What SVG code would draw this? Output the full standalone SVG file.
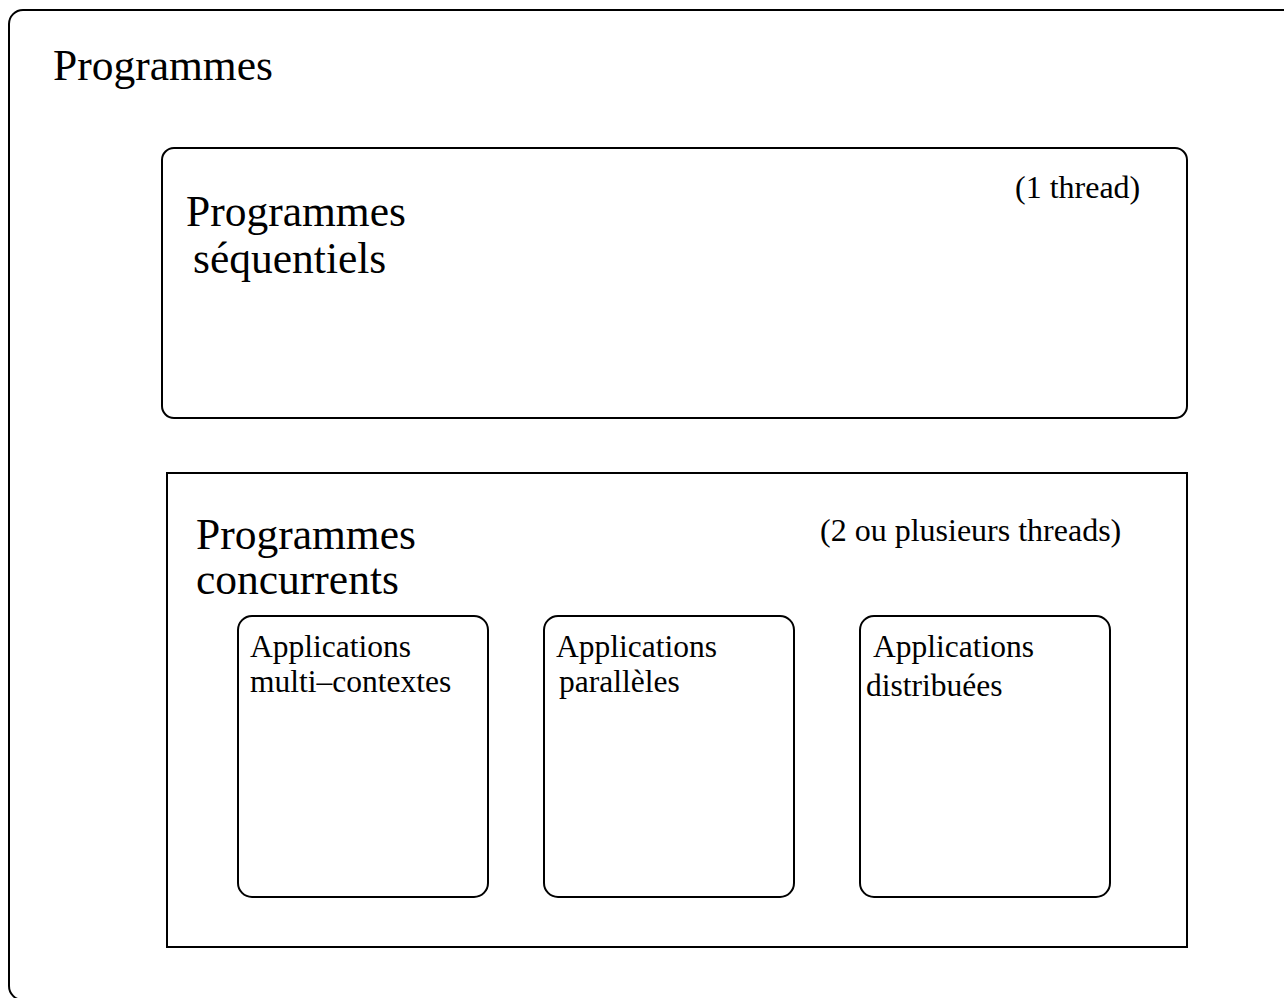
<svg xmlns="http://www.w3.org/2000/svg" width="1284" height="998" viewBox="0 0 1284 998">
<style>
.b{fill:none;stroke:#000;stroke-width:2}
.t{font-family:"Liberation Serif","Times New Roman",serif;fill:#000}
.L{font-size:43.5px}
.M{font-size:32px}
.S{font-size:31.5px}
</style>
<rect width="1284" height="998" fill="#fff"/>
<g id="outer">
<rect class="b" x="9" y="10" width="1300" height="990" rx="14"/>
<text class="t L" x="53" y="80">Programmes</text>
</g>
<g id="sequentiels">
<rect class="b" x="162" y="148" width="1025" height="270" rx="12"/>
<text class="t L" x="186" y="226">Programmes</text>
<text class="t L" x="193" y="273">séquentiels</text>
<text class="t M" x="1015" y="198">(1 thread)</text>
</g>
<g id="concurrents">
<rect class="b" x="167" y="473" width="1020" height="474"/>
<text class="t L" x="196" y="549">Programmes</text>
<text class="t L" x="196" y="594">concurrents</text>
<text class="t M" x="820" y="541">(2 ou plusieurs threads)</text>
</g>
<g id="multi">
<rect class="b" x="238" y="616" width="250" height="281" rx="14"/>
<text class="t S" x="250" y="657">Applications</text>
<text class="t S" x="250" y="692">multi–contextes</text>
</g>
<g id="paralleles">
<rect class="b" x="544" y="616" width="250" height="281" rx="14"/>
<text class="t S" x="556" y="657">Applications</text>
<text class="t S" x="559" y="692">parallèles</text>
</g>
<g id="distribuees">
<rect class="b" x="860" y="616" width="250" height="281" rx="14"/>
<text class="t S" x="873" y="657">Applications</text>
<text class="t S" x="866" y="696">distribuées</text>
</g>
<g id="connectors"></g>
</svg>
